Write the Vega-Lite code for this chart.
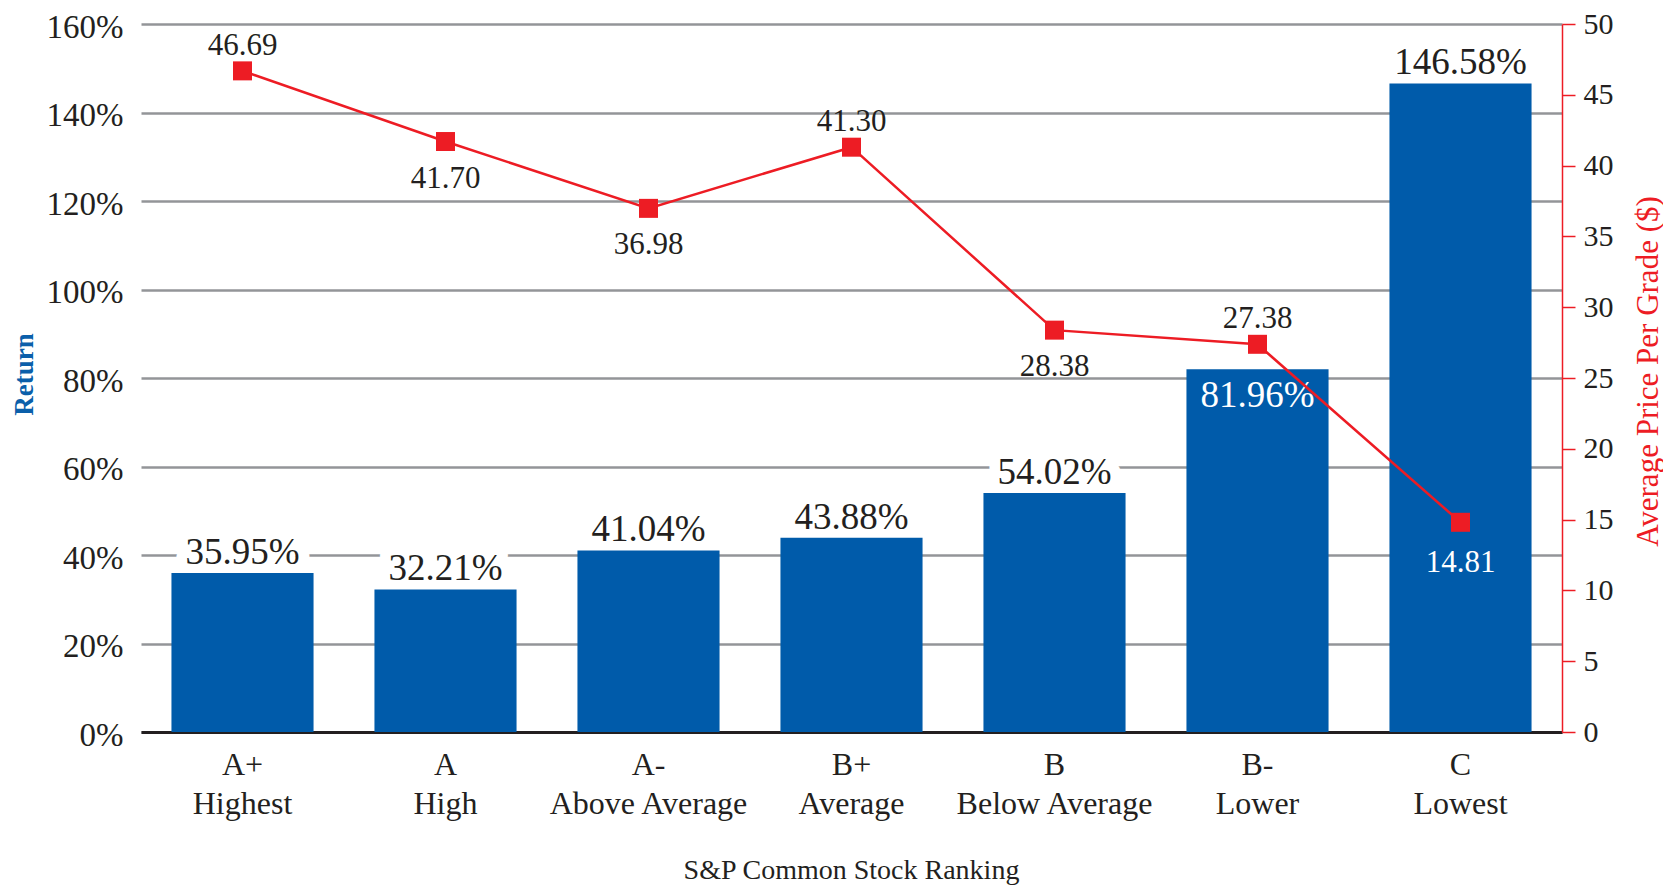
{
  "$schema": "https://vega.github.io/schema/vega-lite/v6.json",
  "width": 1421,
  "height": 708,
  "autosize": {"type": "none"},
  "padding": {"left": 141, "top": 24, "right": 101, "bottom": 156},
  "background": "white",
  "config": {"view": {"stroke": null}, "font": "Liberation Serif"},
  "data": {
    "values": [
      {"grade": "A+|Highest", "ret": 0.3595, "price": 46.69},
      {"grade": "A|High", "ret": 0.3221, "price": 41.70},
      {"grade": "A-|Above Average", "ret": 0.4104, "price": 36.98},
      {"grade": "B+|Average", "ret": 0.4388, "price": 41.30},
      {"grade": "B|Below Average", "ret": 0.5402, "price": 28.38},
      {"grade": "B-|Lower", "ret": 0.8196, "price": 27.38},
      {"grade": "C|Lowest", "ret": 1.4658, "price": 14.81}
    ]
  },
  "encoding": {
    "x": {
      "field": "grade",
      "type": "nominal",
      "sort": ["A+|Highest", "A|High", "A-|Above Average", "B+|Average", "B|Below Average", "B-|Lower", "C|Lowest"],
      "scale": {"paddingInner": 0.3, "paddingOuter": 0.15},
      "axis": {
        "title": "S&P Common Stock Ranking",
        "titleFont": "Liberation Serif",
        "titleFontSize": 28,
        "titleFontWeight": "normal",
        "titleColor": "#231F20",
        "titleX": 710,
        "titleY": 146,
        "titleBaseline": "alphabetic",
        "titleAlign": "center",
        "labelExpr": "split(datum.value, '|')",
        "labelAngle": 0,
        "labelLimit": 0,
        "labelFont": "Liberation Serif",
        "labelFontSize": 32,
        "labelColor": "#231F20",
        "labelLineHeight": 39,
        "labelPadding": 17,
        "labelBaseline": "top",
        "ticks": false,
        "domainColor": "#231F20",
        "domainWidth": 3,
        "grid": false
      }
    }
  },
  "layer": [
    {
      "encoding": {
        "y": {
          "field": "ret",
          "type": "quantitative",
          "scale": {"domain": [0, 1.6], "nice": false},
          "axis": {
            "title": "Return",
            "titleFont": "Liberation Serif",
            "titleFontSize": 27,
            "titleFontWeight": "bold",
            "titleColor": "#0B5FAA",
            "titleAngle": 270,
            "titleX": -117,
            "titleY": 350,
            "titleAlign": "center",
            "titleBaseline": "middle",
            "values": [0, 0.2, 0.4, 0.6, 0.8, 1.0, 1.2, 1.4, 1.6],
            "format": ".0%",
            "labelFont": "Liberation Serif",
            "labelFontSize": 33,
            "labelColor": "#231F20",
            "labelPadding": 18,
            "labelOffset": 3,
            "ticks": false,
            "domain": false,
            "grid": true,
            "gridColor": "#939598",
            "gridWidth": 2.5
          }
        }
      },
      "layer": [
        {
          "transform": [{"filter": "datum.grade != 'B-|Lower'"}],
          "mark": {"type": "text", "fontSize": 37, "baseline": "alphabetic", "dy": -9, "stroke": "white", "strokeWidth": 22, "strokeJoin": "round", "fill": "white"},
          "encoding": {"text": {"field": "ret", "format": ".2%"}}
        },
        {
          "mark": {"type": "bar", "color": "#005BAA"}
        },
        {
          "transform": [{"filter": "datum.grade != 'B-|Lower'"}],
          "mark": {"type": "text", "fontSize": 37, "baseline": "alphabetic", "dy": -9, "color": "#231F20"},
          "encoding": {"text": {"field": "ret", "format": ".2%"}}
        },
        {
          "transform": [{"filter": "datum.grade == 'B-|Lower'"}],
          "mark": {"type": "text", "fontSize": 37, "baseline": "alphabetic", "dy": 38, "color": "white"},
          "encoding": {"text": {"field": "ret", "format": ".2%"}}
        }
      ]
    },
    {
      "encoding": {
        "y": {
          "field": "price",
          "type": "quantitative",
          "scale": {"domain": [0, 50], "nice": false},
          "axis": {
            "orient": "right",
            "title": "Average Price Per Grade ($)",
            "titleFont": "Liberation Serif",
            "titleFontSize": 31,
            "titleFontWeight": "normal",
            "titleColor": "#ED1C24",
            "titleAngle": 270,
            "titleX": 86,
            "titleY": 347,
            "titleAlign": "center",
            "titleBaseline": "middle",
            "values": [0, 5, 10, 15, 20, 25, 30, 35, 40, 45, 50],
            "labelFont": "Liberation Serif",
            "labelFontSize": 30,
            "labelColor": "#231F20",
            "labelPadding": 8,
            "tickSize": 13,
            "tickColor": "#ED1C24",
            "tickWidth": 1.5,
            "domainColor": "#ED1C24",
            "domainWidth": 1.5,
            "grid": false
          }
        }
      },
      "layer": [
        {"mark": {"type": "line", "color": "#ED1C24", "strokeWidth": 2.5}},
        {"mark": {"type": "square", "color": "#ED1C24", "filled": true, "opacity": 1, "size": 361}},
        {
          "transform": [{"filter": "indexof(['A+|Highest', 'B+|Average', 'B-|Lower'], datum.grade) >= 0"}],
          "mark": {"type": "text", "fontSize": 31, "baseline": "alphabetic", "dy": -16, "color": "#231F20"},
          "encoding": {"text": {"field": "price", "format": ".2f"}}
        },
        {
          "transform": [{"filter": "indexof(['A|High', 'A-|Above Average', 'B|Below Average'], datum.grade) >= 0"}],
          "mark": {"type": "text", "fontSize": 31, "baseline": "alphabetic", "dy": 46, "color": "#231F20"},
          "encoding": {"text": {"field": "price", "format": ".2f"}}
        },
        {
          "transform": [{"filter": "datum.grade == 'C|Lowest'"}],
          "mark": {"type": "text", "fontSize": 31, "baseline": "alphabetic", "dy": 50, "color": "white"},
          "encoding": {"text": {"field": "price", "format": ".2f"}}
        }
      ]
    }
  ],
  "resolve": {"scale": {"y": "independent"}}
}
